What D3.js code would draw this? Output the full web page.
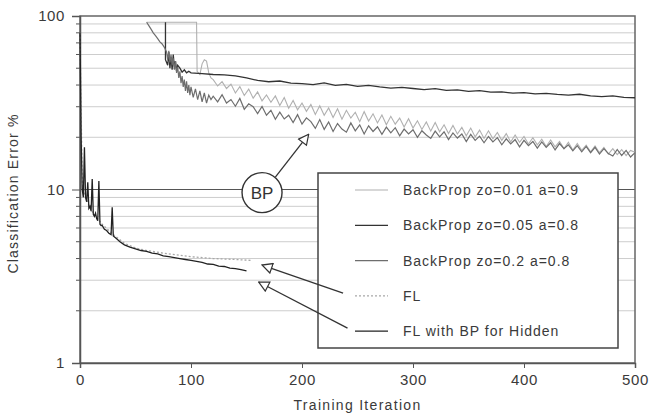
<!DOCTYPE html>
<html>
<head>
<meta charset="utf-8">
<title>Classification error vs training iteration</title>
<script src="https://cdn.jsdelivr.net/npm/d3@7"></script>
<style>
body { margin: 0; background: #fff; }
svg { font-family: "Liberation Sans", Arial, sans-serif; }
.axis path, .axis line { stroke: #555; }
.axis text { fill: #3a3a3a; font-size: 15px; letter-spacing: 0.6px; }
</style>
</head>
<body>
<svg id="chart" width="651" height="416"></svg>
<script>
// ---- data ----
var bp001Iter = [60,105,105.5,108,110,112,114,116,118,
  120,124,128,132,136,140,144,148,152,156,160,164,168,172,176,180,184,188,192,196,
  200,204,208,212,216,220,224,228,232,236,240,244,248,252,256,260,264,268,272,276,
  280,284,288,292,296,300,304,308,312,316,320,324,328,332,336,340,344,348,352,356,
  360,364,368,372,376,380,384,388,392,396,400,404,408,412,416,420,424,428,432,436,
  440,444,448,452,456,460,464,468,472,476,480,484,488,492,496,500];
var bp001Val = [92,92,48,46,53,56,55,47,44,
  43,39.5,41.8,38.2,40.5,36,39.2,34.8,37.9,33.6,36.5,32.4,35.1,31.8,34.6,30.5,33.9,29.4,32.6,28.8,
  31.5,28.2,30.9,27.1,30.4,26.8,29.5,26,29.2,25.4,28.6,25.8,27.9,24.6,28.1,24.8,27.3,24.2,26.9,23.6,
  26.4,23.8,25.8,22.9,25.6,22.6,24.9,22.2,24.5,21.7,24.3,21.5,23.6,21,23.4,20.9,22.8,20.4,22.6,20.1,
  22,19.7,21.8,19.6,21.3,19.2,21,18.8,20.6,18.7,20.2,18.3,19.9,18.1,19.5,17.7,19.3,17.6,18.9,17.2,
  18.7,16.9,18.4,16.8,18,16.5,17.8,16.3,17.5,16,17.2,15.9,17,15.7,16.8,16.4];

var bp005Iter = [77,77,79,80,81,82,83,84,85,86,87,88,90,92,94,96,98,100,
  110,120,130,140,150,160,170,180,190,200,210,220,230,240,250,260,270,280,290,300,
  310,320,330,340,350,360,370,380,390,400,410,420,430,440,450,460,470,480,490,500];
var bp005Val = [92,56,52,62,50,58,49,60,51,55,48,52,50,47.5,49,47,48,47,
  46.5,46,45.8,45.2,44,42.5,41.8,42.2,41,40.8,40.2,41.2,39.8,40.4,39.3,39.8,39,38.4,38.8,38.2,
  37.6,38.1,37.3,37.5,36.8,37.1,36.4,36.5,35.9,36.2,35.6,35.8,35.3,35,35.4,34.6,34.3,34.6,34,33.8];

var bp02Iter = [60,62,64,66,68,70,72,74,76,78,79,80,81,82,83,84,85,86,87,88,89,90,91,92,93,94,95,96,97,98,99,
  100,102,104,106,108,110,112,114,116,118,
  120,124,128,132,136,140,144,148,152,156,160,164,168,172,176,180,184,188,192,196,
  200,204,208,212,216,220,224,228,232,236,240,244,248,252,256,260,264,268,272,276,
  280,284,288,292,296,300,304,308,312,316,320,324,328,332,336,340,344,348,352,356,
  360,364,368,372,376,380,384,388,392,396,400,404,408,412,416,420,424,428,432,436,
  440,444,448,452,456,460,464,468,472,476,480,484,488,492,496,500];
var bp02Val = [92,88,84,80,77,74,71,69,66,62,56,63,54,60,52,57,49,55,47,51,44,48,41,45,39,43,37,42,36,40,35,
  39,34,38,33,37,32,36,31.5,35,33,
  34.5,32,35.2,31.5,33,30.2,33.5,29,31.2,30,27.4,30.1,26.8,28.6,25.4,27.9,25.5,26.8,24.3,27,
  23.8,25.9,24.6,22.5,25.3,22.2,24.5,21.6,24,22.3,21.4,24.2,21.8,23.6,20.9,23.3,21.6,23,20.8,22.9,
  21.2,22.7,20.4,22.3,20.9,22.1,20,21.8,20.6,19.7,21.7,20.1,21.5,19.4,21.2,19.8,20.9,18.9,20.8,19.2,
  20.3,18.6,20.2,18.8,19.9,18.1,19.6,18.3,19.4,17.6,19.2,17.9,18.9,17.3,18.8,17.5,18.6,16.9,18.4,17.2,
  18.1,16.7,17.9,16.5,17.7,16.3,17.5,16,17.2,16.1,15.6,17,15.7,16.8,15.4,16.3];

var flIter = [0,2,5,10,15,20,30,40,50,60,80,100,120,140,155];
var flVal = [80,11,9,7.6,6.9,6.3,5.5,4.9,4.6,4.45,4.25,4.1,4,3.95,3.9];

var flbpIter = [0,1,2,3,4,5,6,7,8,9,10,11,12,13,14,15,16,17,18,19,20,22,24,26,28,29,30,33,36,40,45,
  50,55,60,65,70,75,80,85,90,95,100,105,110,115,120,125,130,135,140,145,150];
var flbpVal = [80,20,10,9,17.5,9,8.5,11,7.8,8,7.5,11.5,7.2,7,7.3,6.8,6.6,11.2,6.3,6.2,6.2,5.9,5.8,5.6,5.5,7.9,5.4,5.2,5,4.8,4.65,
  4.55,4.45,4.4,4.3,4.25,4.15,4.1,4.05,4,3.95,3.9,3.85,3.8,3.72,3.7,3.62,3.6,3.52,3.5,3.45,3.4];

var xTicks = [0,100,200,300,400,500];
var yMajor = [1,10,100];
var yMinor = [2,3,4,5,6,7,8,9,20,30,40,50,60,70,80,90];

var legendLabels = ["BackProp zo=0.01 a=0.9","BackProp zo=0.05 a=0.8","BackProp zo=0.2 a=0.8","FL","FL with BP for Hidden"];

// ---- chart ----
var svg = d3.select("#chart");
var plotL = 80, plotR = 635, plotT = 16, plotB = 363;

var x = d3.scaleLinear().domain([0, 500]).range([plotL, plotR]);
var y = d3.scaleLog().domain([1, 100]).range([plotB, plotT]);

// gridlines
svg.append("g").selectAll("line").data(yMinor).enter().append("line")
  .attr("x1", plotL).attr("x2", plotR)
  .attr("y1", function(d) { return y(d); }).attr("y2", function(d) { return y(d); })
  .attr("stroke", "#cdcdcd").attr("stroke-width", 1);
svg.append("line")
  .attr("x1", plotL).attr("x2", plotR).attr("y1", y(10)).attr("y2", y(10))
  .attr("stroke", "#555").attr("stroke-width", 1.2);

// frame
svg.append("rect").attr("x", plotL).attr("y", plotT)
  .attr("width", plotR - plotL).attr("height", plotB - plotT)
  .attr("fill", "none").attr("stroke", "#666").attr("stroke-width", 1.5);

// axes
svg.append("g").attr("class", "axis").attr("transform", "translate(" + plotL + ",0)")
  .call(d3.axisLeft(y).tickValues(yMajor).tickFormat(d3.format("d")).tickSize(8).tickPadding(7))
  .call(function(g) { g.select(".domain").attr("stroke-width", 1.5); });
svg.append("g").selectAll("line").data(yMinor).enter().append("line")
  .attr("x1", plotL - 4).attr("x2", plotL)
  .attr("y1", function(d) { return y(d); }).attr("y2", function(d) { return y(d); })
  .attr("stroke", "#555");
svg.append("g").attr("class", "axis").attr("transform", "translate(0," + plotB + ")")
  .call(d3.axisBottom(x).tickValues(xTicks).tickSize(5).tickPadding(6))
  .call(function(g) { g.select(".domain").attr("stroke-width", 1.5); });

svg.append("text").attr("x", (plotL + plotR) / 2).attr("y", 410)
  .attr("text-anchor", "middle").attr("fill", "#3a3a3a")
  .style("font-size", "14px").style("letter-spacing", "1.3px")
  .text("Training Iteration");
svg.append("text").attr("transform", "translate(18," + ((plotT + plotB) / 2 + 4) + ") rotate(-90)")
  .attr("text-anchor", "middle").attr("fill", "#3a3a3a")
  .style("font-size", "14px").style("letter-spacing", "1.2px")
  .text("Classification Error %");

// series (legend order)
var line = d3.line().x(function(d) { return x(d[0]); }).y(function(d) { return y(d[1]); });
function pairs(a, b) { return a.map(function(v, i) { return [v, b[i]]; }); }

var series = [
  { pts: pairs(bp001Iter, bp001Val), color: "#b0b0b0", w: 1.1, dash: null },
  { pts: pairs(bp005Iter, bp005Val), color: "#333", w: 1.3, dash: null },
  { pts: pairs(bp02Iter, bp02Val), color: "#6e6e6e", w: 1.2, dash: null },
  { pts: pairs(flIter, flVal), color: "#a8a8a8", w: 1.3, dash: "2,2" },
  { pts: pairs(flbpIter, flbpVal), color: "#222", w: 1.3, dash: null }
];
svg.append("g").selectAll("path").data(series).enter().append("path")
  .attr("d", function(d) { return line(d.pts); })
  .attr("fill", "none")
  .attr("stroke", function(d) { return d.color; })
  .attr("stroke-width", function(d) { return d.w; })
  .attr("stroke-dasharray", function(d) { return d.dash; });

// arrow marker (open triangle)
svg.append("defs").append("marker").attr("id", "arr")
  .attr("viewBox", "0 0 12 12").attr("refX", 11).attr("refY", 6)
  .attr("markerWidth", 12).attr("markerHeight", 12).attr("markerUnits", "userSpaceOnUse")
  .attr("orient", "auto")
  .append("path").attr("d", "M1,1 L11,6 L1,11 Z")
  .attr("fill", "#fff").attr("stroke", "#333").attr("stroke-width", 1.2);

function arrow(from, to) {
  svg.append("line")
    .attr("x1", x(from[0])).attr("y1", y(from[1]))
    .attr("x2", x(to[0])).attr("y2", y(to[1]))
    .attr("stroke", "#333").attr("stroke-width", 1.3)
    .attr("marker-end", "url(#arr)");
}

// BP annotation
arrow([176, 11.8], [206, 20.8]);
svg.append("circle").attr("cx", x(164)).attr("cy", y(9.6)).attr("r", 20)
  .attr("fill", "#fff").attr("stroke", "#333").attr("stroke-width", 1.4);
svg.append("text").attr("x", x(164)).attr("y", y(9.6) + 6)
  .attr("text-anchor", "middle").attr("fill", "#333").style("font-size", "17px")
  .text("BP");

// legend
var lg = svg.append("g");
lg.append("rect").attr("x", 318).attr("y", 173).attr("width", 300).attr("height", 175)
  .attr("fill", "#fff").attr("stroke", "#444").attr("stroke-width", 1.5);
var legendRows = lg.selectAll("g").data(series).enter().append("g")
  .attr("transform", function(d, i) { return "translate(0," + (190 + i * 35.3) + ")"; });
legendRows.append("line").attr("x1", 355).attr("x2", 388)
  .attr("stroke", function(d) { return d.color; })
  .attr("stroke-width", function(d) { return d.w; })
  .attr("stroke-dasharray", function(d) { return d.dash; });
legendRows.append("text").attr("x", 403).attr("y", 5)
  .attr("fill", "#3a3a3a").style("font-size", "14px").style("letter-spacing", "1px")
  .text(function(d, i) { return legendLabels[i]; });

// FL arrows (drawn over the legend border)
arrow([237, 2.53], [164, 3.67]);
arrow([241, 1.59], [161, 2.93]);
</script>
</body>
</html>
